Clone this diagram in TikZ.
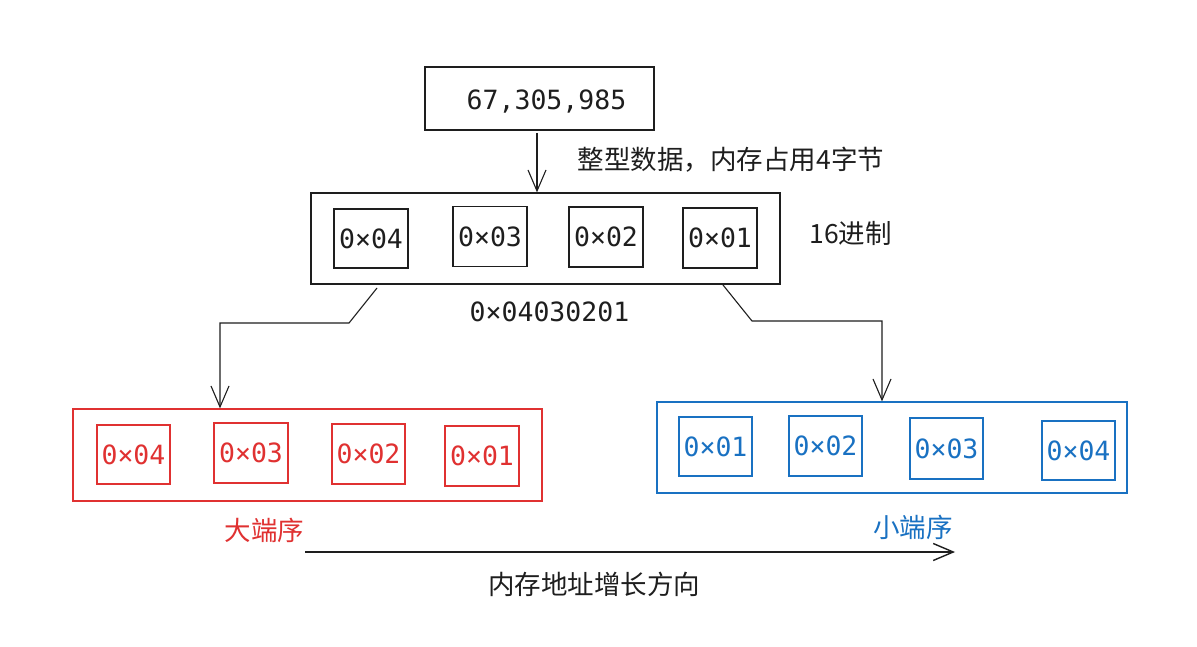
\documentclass[tikz,border=0pt]{standalone}
\usepackage{fontspec}
\setmonofont{DejaVu Sans Mono}
\newfontfamily\cjk{Noto Sans CJK SC}
\usetikzlibrary{arrows.meta}
\definecolor{ink}{HTML}{1E1E1E}
\definecolor{exred}{HTML}{E03131}
\definecolor{exblue}{HTML}{1971C2}
\tikzset{
  box/.style={draw=ink, line width=1.25pt, inner sep=0pt, text=ink},
  hexbox/.style={box, minimum width=74pt, minimum height=60pt, font=\fontsize{26.5}{30}\selectfont\ttfamily},
  monotext/.style={inner sep=0pt, text=ink, font=\fontsize{26.5}{30}\selectfont\ttfamily},
  cjktext/.style={inner sep=0pt, text=ink, font=\fontsize{26.5}{30}\selectfont\cjk},
  conn/.style={draw=ink, line width=1.1pt, -{Straight Barb[length=21pt,width=18pt,line width=1.1pt]}},
  mainarrow/.style={draw=ink, line width=1.4pt, -{Straight Barb[length=20pt,width=17pt,line width=1.4pt]}}
}
\begin{document}
\begin{tikzpicture}[x=1pt,y=-1pt]
\useasboundingbox[fill=white] (0,0) rectangle (1197,647);

% top value
\node[box, minimum width=229pt, minimum height=63pt] (top) at (539.5,98.5) {};
\node[monotext, anchor=base] (topval) at (546.5,110) {67,305,985};

% middle hex box
\node[box, minimum width=469pt, minimum height=91pt] (mid) at (545.5,238.5) {};
\node[hexbox, minimum width=74pt, minimum height=59pt] (m1) at (371,238.5) {0×04};
\node[hexbox] (m2) at (490,236.5) {0×03};
\node[hexbox] (m3) at (606,237) {0×02};
\node[hexbox] (m4) at (720,238) {0×01};
\node[monotext, anchor=base] (hexval) at (549.5,321) {0×04030201};
\node[cjktext] (intlabel) at (731,160) {整型数据，内存占用4字节};
\node[cjktext] (hexlabel) at (850.5,233) {16进制};

% top -> mid
\coordinate (topout) at (537,133);
\draw[conn] (topout) -- (topout |- mid.north);

% big endian
\node[box, draw=exred, minimum width=469pt, minimum height=92pt] (big) at (307.5,455) {};
\node[hexbox, draw=exred, text=exred, minimum width=73pt, minimum height=59pt] (r1) at (133.5,454.5) {0×04};
\node[hexbox, draw=exred, text=exred] (r2) at (251,453) {0×03};
\node[hexbox, draw=exred, text=exred, minimum width=73pt] (r3) at (368.5,454) {0×02};
\node[hexbox, draw=exred, text=exred] (r4) at (482,456) {0×01};
\node[cjktext, text=exred] (biglabel) at (264.5,530) {大端序};

% little endian
\node[box, draw=exblue, minimum width=470pt, minimum height=91pt] (little) at (892,447.5) {};
\node[hexbox, draw=exblue, text=exblue, minimum width=73pt, minimum height=59pt] (b1) at (715.5,446.5) {0×01};
\node[hexbox, draw=exblue, text=exblue, minimum width=73pt] (b2) at (825.5,446) {0×02};
\node[hexbox, draw=exblue, text=exblue, minimum width=73pt, minimum height=61pt] (b3) at (946.5,448.5) {0×03};
\node[hexbox, draw=exblue, text=exblue, minimum width=73pt, minimum height=59pt] (b4) at (1078.5,450.5) {0×04};
\node[cjktext, text=exblue] (littlelabel) at (913,527) {小端序};

% mid -> big endian
\coordinate (ra) at (377,288);
\coordinate (rb) at (349,323);
\coordinate (rc) at (220,323);
\draw[conn] (ra) -- (rb) -- (rc) -- (rc |- big.north);

% mid -> little endian
\coordinate (ba) at (723,285);
\coordinate (bb) at (752,321);
\coordinate (bc) at (882,321);
\draw[conn] (ba) -- (bb) -- (bc) -- (bc |- little.north);

% address direction
\coordinate (addrstart) at (305,552);
\coordinate (addrend) at (955,552);
\draw[mainarrow] (addrstart) -- (addrend);
\node[cjktext] (addrlabel) at (594,584) {内存地址增长方向};
\end{tikzpicture}
\end{document}
